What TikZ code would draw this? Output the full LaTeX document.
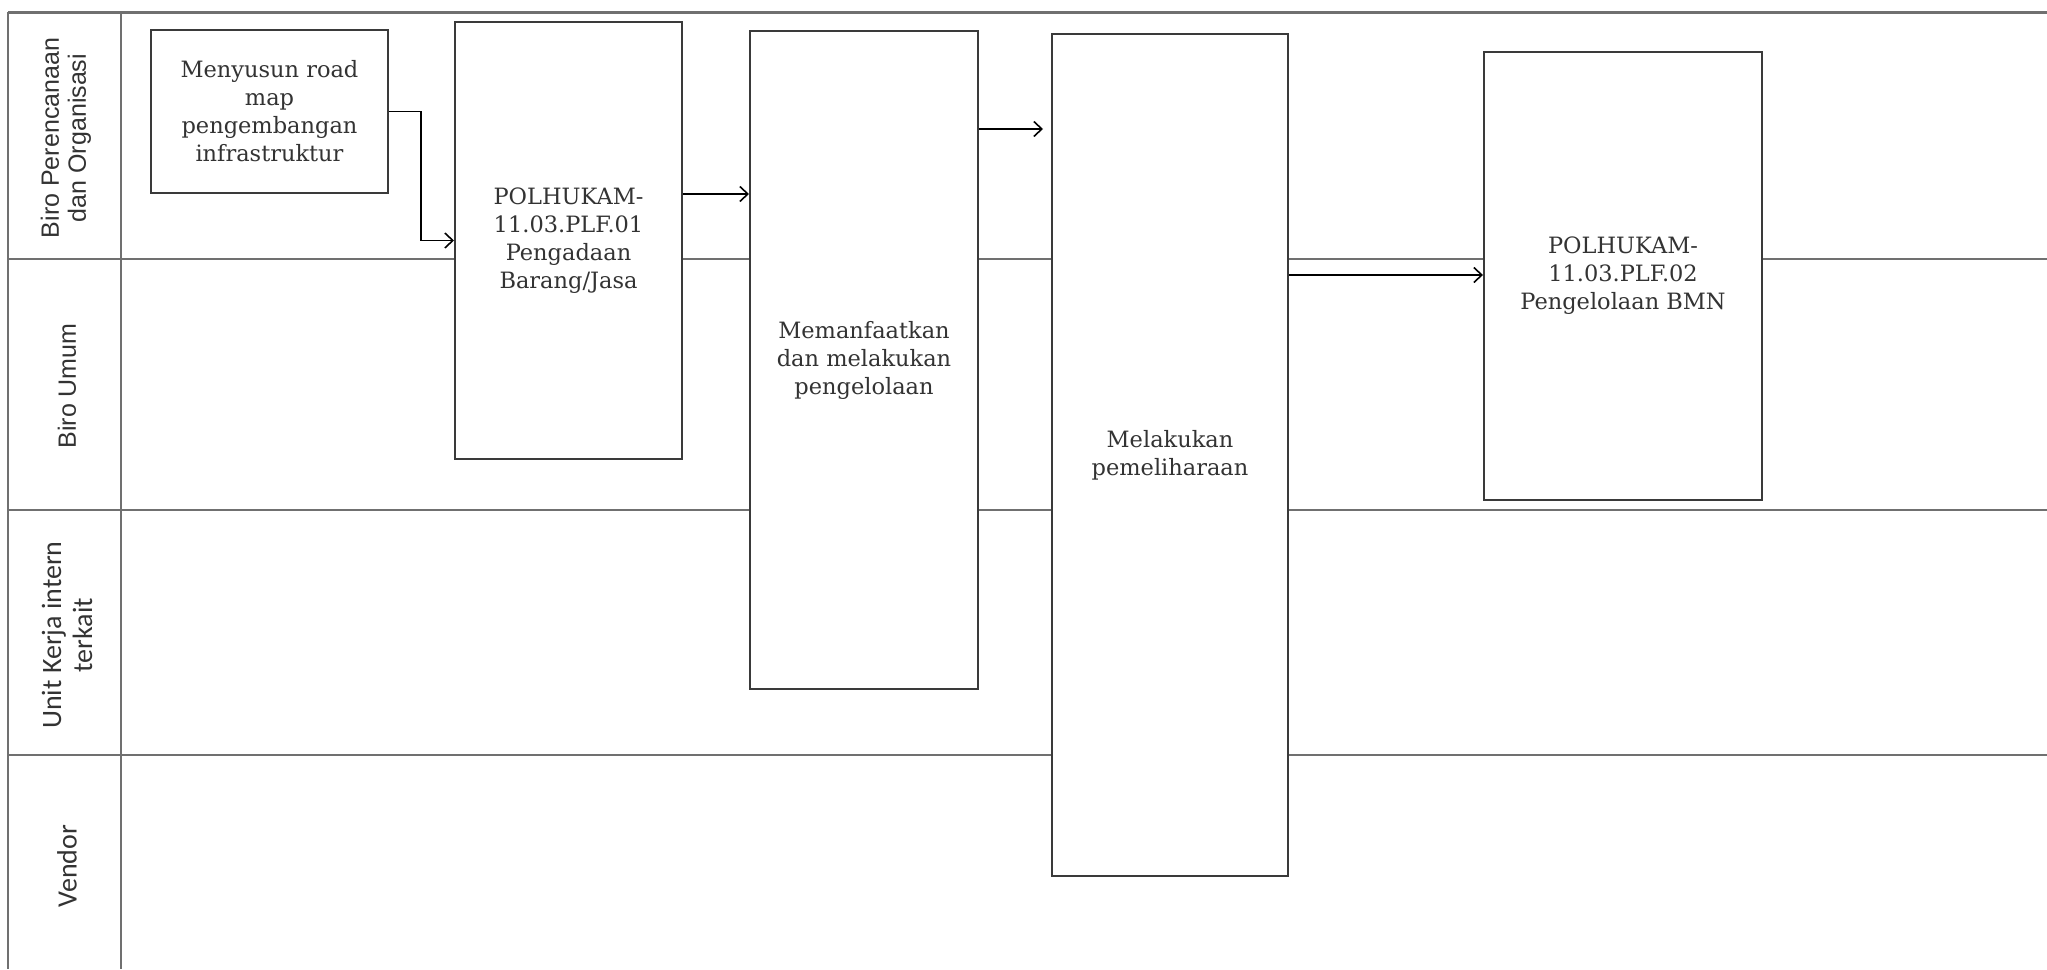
\documentclass[tikz,border=0pt]{standalone}
\usepackage{fontspec}
\usetikzlibrary{arrows.meta}
\newfontfamily\boxfont{DejaVu Serif}
\newfontfamily\lanefont{Liberation Sans}
\newfontfamily\calfont{Carlito}
\definecolor{txt}{HTML}{333333}
\definecolor{boxline}{HTML}{3A3A3A}
\definecolor{laneline}{HTML}{707070}
\begin{document}
\begin{tikzpicture}[x=1pt,y=-1pt,
  lane/.style={draw=laneline,line width=2pt},
  procbox/.style={draw=boxline,line width=2pt,fill=white,align=center,text=txt,
    inner sep=0pt,font=\boxfont\fontsize{22.5}{28}\selectfont},
  lanelabel/.style={rotate=90,align=center,text=txt,inner sep=0pt},
  arr/.style={draw=black,line width=1.6pt,-{Straight Barb[length=8pt,width=15pt,line width=1.6pt]}}]
\useasboundingbox (0,0) rectangle (2047,969);
\fill[white] (0,0) rectangle (2047,969);
% swimlane grid
\draw[lane,line width=3pt] (8,12) -- (2047,12);
\draw[lane] (8,12) -- (8,969);
\draw[lane] (121,12) -- (121,969);
\draw[lane] (8,259) -- (2047,259);
\draw[lane] (8,510) -- (2047,510);
\draw[lane] (8,755) -- (2047,755);
% lane labels
\node[lanelabel,font=\lanefont\fontsize{25}{27}\selectfont] (l1) at (66,138) {Biro Perencanaan\\dan Organisasi};
\node[lanelabel,font=\lanefont\fontsize{25}{27}\selectfont] (l2) at (67,386) {Biro Umum};
\node[lanelabel,font=\calfont\fontsize{28}{31}\selectfont] (l3) at (67,635) {Unit Kerja intern\\terkait};
\node[lanelabel,font=\calfont\fontsize{28}{31}\selectfont] (l4) at (67,866) {Vendor};
% process boxes
\node[procbox,minimum width=237pt,minimum height=163pt] (b1) at (269.5,111.5)
  {Menyusun road\\map\\pengembangan\\infrastruktur};
\node[procbox,minimum width=227pt,minimum height=437pt] (b2) at (568.5,240.5)
  {POLHUKAM-\\11.03.PLF.01\\Pengadaan\\Barang/Jasa};
\node[procbox,minimum width=228pt,minimum height=658pt] (b3) at (864,360)
  {Memanfaatkan\\dan melakukan\\pengelolaan};
\node[procbox,minimum width=236pt,minimum height=842pt] (b4) at (1170,455)
  {Melakukan\\pemeliharaan};
\node[procbox,minimum width=278pt,minimum height=448pt] (b5) at (1623,276)
  {POLHUKAM-\\11.03.PLF.02\\Pengelolaan BMN};
% connectors
\draw[arr] (b1.east) -- ++(32,0) |- (b2.west);
\draw[arr] (b2.east |- 0,194) -- (b3.west |- 0,194);
\draw[arr,shorten >=8pt] (b3.east |- 0,129) -- (b4.west |- 0,129);
\draw[arr] (b4.east |- 0,275) -- (b5.west |- 0,275);
\end{tikzpicture}
\end{document}
